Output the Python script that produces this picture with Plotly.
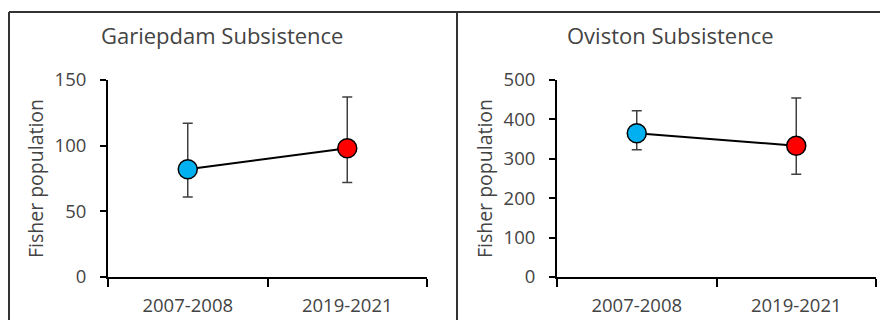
import plotly.graph_objects as go

periods = ["2007-2008", "2019-2021"]
marker_colors = ["#00B0F0", "#FF0000"]

gariep_title = "Gariepdam Subsistence"
gariep_est = [82, 98]
gariep_upper = [117, 137]
gariep_lower = [61, 72]
gariep_ticks = [0, 50, 100, 150]

oviston_title = "Oviston Subsistence"
oviston_est = [365, 333]
oviston_upper = [422, 454]
oviston_lower = [323, 261]
oviston_ticks = [0, 100, 200, 300, 400, 500]

y_title = "Fisher population"

W, H = 880, 320
FONT = "Open Sans"
GRAY = "#444444"

fig = go.Figure()


def add_panel(est, up, lo, xa, ya):
    fig.add_trace(go.Scatter(
        x=periods, y=est, xaxis=xa, yaxis=ya,
        mode="lines+markers",
        line=dict(color="black", width=2),
        marker=dict(size=19, color=marker_colors, line=dict(color="black", width=1.5)),
        error_y=dict(type="data", symmetric=False,
                     array=[u - e for u, e in zip(up, est)],
                     arrayminus=[e - l for e, l in zip(est, lo)],
                     color="#404040", thickness=1.5, width=5),
        showlegend=False, hoverinfo="skip",
    ))


add_panel(gariep_est, gariep_upper, gariep_lower, "x", "y")
add_panel(oviston_est, oviston_upper, oviston_lower, "x2", "y2")

y0 = (H - 277) / H
y1 = (H - 80) / H

xcommon = dict(type="category", range=[-0.5, 1.5], tickson="boundaries",
               showline=True, linecolor="black", linewidth=2,
               ticks="outside", ticklen=8, tickwidth=2, tickcolor="black",
               showgrid=False, zeroline=False, automargin=False, ticklabelstandoff=11,
               tickfont=dict(family=FONT, size=18.5, color=GRAY))
ycommon = dict(showline=True, linecolor="black", linewidth=2,
               ticks="outside", ticklen=6, tickwidth=2, tickcolor="black",
               showgrid=False, zeroline=False, ticklabelstandoff=10, automargin=False,
               tickfont=dict(family=FONT, size=18.5, color=GRAY),
               title=dict(text=y_title, font=dict(family=FONT, size=19.5, color=GRAY), standoff=6))

fig.update_layout(
    width=W, height=H,
    margin=dict(l=0, r=0, t=0, b=0, autoexpand=False),
    paper_bgcolor="white", plot_bgcolor="white",
    xaxis=dict(domain=[108 / W, 427 / W], anchor="y", **xcommon),
    yaxis=dict(domain=[y0, y1], anchor="x", range=[0, 150], tickvals=gariep_ticks, **ycommon),
    xaxis2=dict(domain=[557 / W, 876 / W], anchor="y2", **xcommon),
    yaxis2=dict(domain=[y0, y1], anchor="x2", range=[0, 500], tickvals=oviston_ticks, **ycommon),
    annotations=[
        dict(text=gariep_title, x=222 / W, y=(H - 35) / H, xref="paper", yref="paper",
             showarrow=False, xanchor="center", yanchor="middle",
             font=dict(family=FONT, size=22, color=GRAY)),
        dict(text=oviston_title, x=670 / W, y=(H - 35) / H, xref="paper", yref="paper",
             showarrow=False, xanchor="center", yanchor="middle",
             font=dict(family=FONT, size=22, color=GRAY)),
    ],
    shapes=[
        dict(type="line", xref="paper", yref="paper", x0=9 / W, x1=1, y0=(H - 12) / H, y1=(H - 12) / H,
             line=dict(color="#333333", width=2)),
        dict(type="line", xref="paper", yref="paper", x0=9 / W, x1=9 / W, y0=0, y1=(H - 12) / H,
             line=dict(color="#333333", width=2)),
        dict(type="line", xref="paper", yref="paper", x0=457 / W, x1=457 / W, y0=0, y1=(H - 12) / H,
             line=dict(color="#333333", width=2)),
    ],
)

fig.write_html("out.html", config={"displayModeBar": False},
               post_script="document.body.style.margin='0';document.body.style.overflow='hidden';")
